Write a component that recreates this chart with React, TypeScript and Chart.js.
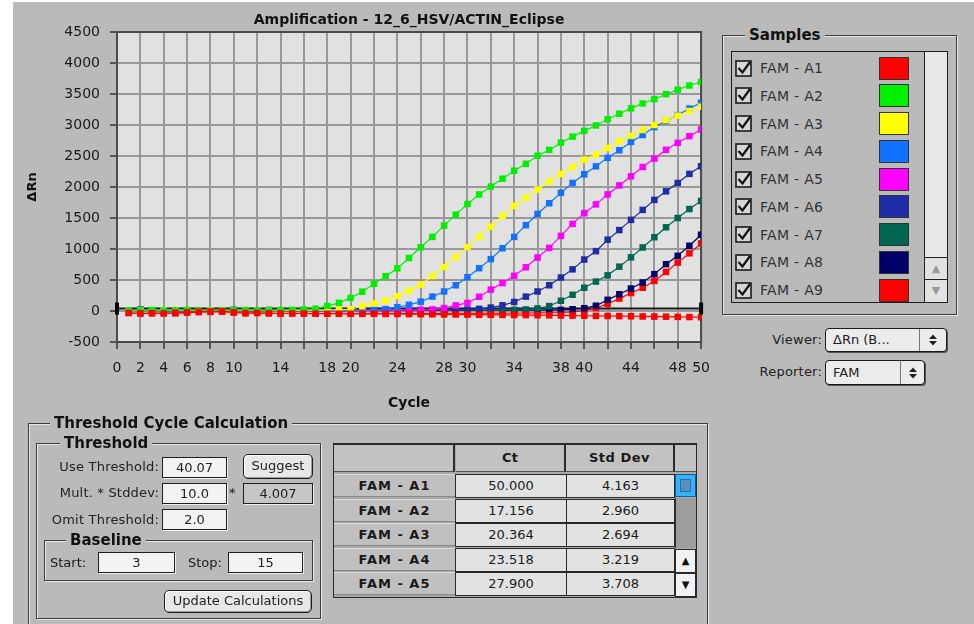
import React, { useEffect, useRef } from 'react';
import { Chart, registerables } from 'chart.js';

Chart.register(...registerables);

const FONT = '"DejaVu Sans", Verdana, sans-serif';
const BG = '#bababa';
const PLOT_BG = '#e1e1e1';

const CHART_TITLE = 'Amplification - 12_6_HSV/ACTIN_Eclipse';
const X_TITLE = 'Cycle';
const Y_TITLE = 'ΔRn';
const THRESHOLD = 40.07;

const CYCLES = [
  1, 2, 3, 4, 5, 6, 7, 8, 9, 10, 11, 12, 13, 14, 15, 16, 17, 18, 19, 20, 21, 22, 23, 24, 25,
  26, 27, 28, 29, 30, 31, 32, 33, 34, 35, 36, 37, 38, 39, 40, 41, 42, 43, 44, 45, 46, 47, 48, 49, 50,
];
const X_GRID = [0, 2, 4, 6, 8, 10, 12, 14, 16, 18, 20, 22, 24, 26, 28, 30, 32, 34, 36, 38, 40, 42, 44, 46, 48, 50];
const X_LABELS = [0, 2, 4, 6, 8, 10, 14, 18, 20, 24, 28, 30, 34, 38, 40, 44, 48, 50];
const Y_MIN = -500;
const Y_MAX = 4500;
const Y_STEP = 500;

const A1 = [-30, -38, -34, -40, -28, -22, -12, -8, -6, -20, -32, -30, -36, -38, -40, -40, -42, -44, -44, -45,
  -46, -46, -47, -48, -50, -51, -53, -55, -56, -58, -60, -62, -63, -65, -66, -68, -70, -72, -74, -77,
  -79, -81, -83, -85, -88, -90, -92, -95, -97, -100];
const A2 = [12, 8, 15, 5, 10, 18, 12, 6, 10, 14, 16, 10, 8, 14, 18, 24, 38, 80, 132, 212,
  312, 438, 562, 688, 855, 1028, 1195, 1378, 1555, 1725, 1880, 2008, 2134, 2262, 2374, 2505, 2598, 2715, 2812, 2905,
  2992, 3093, 3182, 3268, 3348, 3416, 3497, 3570, 3637, 3692];
const A3 = [8, 14, 6, 10, 16, 8, 4, 12, 10, 6, 14, 10, 8, 12, 10, 12, 14, 16, 20, 28,
  78, 120, 165, 240, 325, 425, 565, 710, 870, 1030, 1200, 1360, 1535, 1695, 1825, 1960, 2090, 2210, 2320, 2440,
  2525, 2630, 2735, 2825, 2920, 3000, 3080, 3150, 3225, 3295];
const A4 = [5, 18, 10, -5, -12, 4, 10, 8, 2, 12, 6, 4, 10, 8, 12, 14, 10, 8, 12, 14,
  16, 20, 30, 60, 100, 150, 232, 315, 415, 545, 690, 837, 1012, 1195, 1385, 1565, 1738, 1905, 2065, 2205,
  2333, 2470, 2592, 2727, 2838, 2968, 3068, 3160, 3265, 3360];
const A5 = [6, 4, 10, 8, 2, 12, 10, 6, 4, 8, 10, 12, 6, 8, 10, 6, 8, 10, 12, 10,
  8, 12, 14, 12, 16, 18, 25, 48, 90, 130, 230, 345, 450, 568, 705, 862, 1018, 1212, 1405, 1578,
  1720, 1880, 2025, 2172, 2322, 2458, 2600, 2712, 2820, 2928];
const A6 = [10, 24, 8, 6, 4, 2, 8, 10, 12, 18, 6, 4, 8, 10, 6, 8, 10, 6, 8, 10,
  12, 10, 8, 10, 12, 14, 12, 16, 18, 22, 35, 55, 92, 146, 232, 315, 415, 540, 672, 830,
  965, 1150, 1305, 1470, 1630, 1792, 1930, 2065, 2212, 2335];
const A7 = [8, 6, 4, 10, 6, 8, 4, 6, 10, 8, 6, 4, 8, 6, 10, 6, 8, 4, 6, 8,
  10, 8, 6, 8, 10, 8, 12, 10, 12, 14, 12, 14, 16, 18, 24, 42, 80, 165, 262, 375,
  475, 575, 715, 865, 1025, 1190, 1350, 1500, 1645, 1775];
const A8 = [6, 20, 4, 8, 2, 6, 10, 4, 6, 8, 4, 6, 16, 8, 6, 4, 6, 8, 6, 4,
  6, 8, 6, 8, 6, 8, 10, 8, 10, 12, 10, 12, 10, 12, 14, 12, 14, 18, 28, 45,
  85, 180, 270, 362, 460, 595, 755, 890, 1052, 1230];
const A9 = [-32, -40, -36, -30, -38, -26, -18, -14, -10, -24, -36, -32, -38, -40, -36, -38, -40, -38, -40, -38,
  -40, -38, -40, -38, -40, -38, -40, -38, -36, -38, -36, -38, -36, -34, -32, -30, -28, -24, -15, 5,
  48, 115, 200, 290, 375, 485, 630, 780, 930, 1090];

const SAMPLE_NAMES = ['FAM - A1', 'FAM - A2', 'FAM - A3', 'FAM - A4', 'FAM - A5', 'FAM - A6', 'FAM - A7', 'FAM - A8', 'FAM - A9'];
const SAMPLE_COLORS = ['#ff0000', '#00f000', '#ffff00', '#1272ff', '#ff00ff', '#1e2ca6', '#006652', '#000068', '#ff0000'];
const SERIES = [A1, A2, A3, A4, A5, A6, A7, A8, A9];

const TABLE_ROWS = ['FAM - A1', 'FAM - A2', 'FAM - A3', 'FAM - A4', 'FAM - A5'];
const TABLE_CT = ['50.000', '17.156', '20.364', '23.518', '27.900'];
const TABLE_SD = ['4.163', '2.960', '2.694', '3.219', '3.708'];

const abs = (l: number, t: number, w: number, h: number, extra: any = {}): any => ({
  position: 'absolute', left: l, top: t, width: w, height: h, boxSizing: 'border-box', ...extra,
});

function Group({ l, t, w, h, title, titleLeft, size = 15 }: any) {
  return (
    <>
      <div style={abs(l, t, w, h, { border: '1px solid #3c3c3c', boxShadow: '1px 1px 0 #e6e6e6, inset 1px 1px 0 #e6e6e6' })} />
      <div style={{ position: 'absolute', left: titleLeft, top: t - 10, height: 20, lineHeight: '20px', padding: '0 4px', background: BG, fontWeight: 'bold', fontSize: size, color: '#111', whiteSpace: 'nowrap' }}>{title}</div>
    </>
  );
}

function Field({ l, t, w, h, text, bg = '#f3f3f3' }: any) {
  return (
    <div style={abs(l, t, w, h, { border: '1px solid #1e1e1e', background: bg, boxShadow: '1px 1px 0 #f0f0f0', fontSize: 13, lineHeight: (h - 2) + 'px', textAlign: 'center', color: '#222' })}>{text}</div>
  );
}

function Label({ right, cy, text }: any) {
  return (
    <div style={{ position: 'absolute', right: 974 - right, top: cy - 9, height: 18, lineHeight: '18px', fontSize: 13, whiteSpace: 'nowrap', color: '#222', letterSpacing: 0.2 }}>{text}</div>
  );
}

function Button({ l, t, w, h, text }: any) {
  return (
    <div style={abs(l, t, w, h, { border: '1.5px solid #1e1e1e', borderRadius: 5, background: '#e8e8e8', boxShadow: 'inset -1px -1px 0 #9a9a9a, inset 1px 1px 0 #fafafa', fontSize: 13, lineHeight: (h - 3) + 'px', textAlign: 'center', color: '#222', whiteSpace: 'nowrap' })}>{text}</div>
  );
}

function CheckBox({ l, t }: any) {
  return (
    <svg style={{ position: 'absolute', left: l, top: t }} width={17} height={17} viewBox="0 0 17 17">
      <rect x={1} y={1} width={15} height={15} fill="#d6d6d6" stroke="#1a1a1a" strokeWidth={1.6} />
      <path d="M3.5 8 L7.5 12.5 L15 2" fill="none" stroke="#111" strokeWidth={2.2} />
    </svg>
  );
}

function PopArrows({ cx, cy }: any) {
  return (
    <svg style={{ position: 'absolute', left: cx - 5, top: cy - 7 }} width={10} height={14} viewBox="0 0 10 14">
      <path d="M1 6 L5 1.5 L9 6 Z" fill="#222" />
      <path d="M1 8 L5 12.5 L9 8 Z" fill="#222" />
    </svg>
  );
}

function Popup({ l, t, w, h, sep, text }: any) {
  return (
    <>
      <div style={abs(l, t, w, h, { border: '1px solid #1a1a1a', borderRadius: 4, background: '#ececec', boxShadow: '1px 1px 0 #555', fontSize: 13, lineHeight: (h - 2) + 'px', paddingLeft: 7, color: '#222', whiteSpace: 'nowrap' })}>{text}</div>
      <div style={abs(sep, t + 1, 1, h - 2, { background: '#777' })} />
      <PopArrows cx={(sep + l + w) / 2} cy={t + h / 2} />
    </>
  );
}

export default function App() {
  const ref = useRef<HTMLCanvasElement | null>(null);

  useEffect(() => {
    const canvas = ref.current;
    if (!canvas) return;
    Chart.defaults.font.family = FONT;

    const datasets = SERIES.map((vals, i) => ({
      label: SAMPLE_NAMES[i],
      data: CYCLES.map((c, j) => ({ x: c, y: vals[j] })),
      borderColor: SAMPLE_COLORS[i],
      backgroundColor: SAMPLE_COLORS[i],
      pointBackgroundColor: SAMPLE_COLORS[i],
      pointBorderColor: SAMPLE_COLORS[i],
      pointBorderWidth: 0,
      pointStyle: 'rect',
      pointRadius: 4.6,
      borderWidth: 1.2,
      tension: 0,
      fill: false,
    }));

    const decor = {
      id: 'plotDecor',
      beforeDraw(chart: any) {
        const { ctx, chartArea: a } = chart;
        ctx.save();
        ctx.fillStyle = PLOT_BG;
        ctx.fillRect(a.left, a.top, a.right - a.left, a.bottom - a.top);
        ctx.restore();
      },
      beforeDatasetsDraw(chart: any) {
        const { ctx, chartArea: a, scales } = chart;
        ctx.save();
        ctx.strokeStyle = '#4a4a4a';
        ctx.lineWidth = 2;
        ctx.strokeRect(a.left, a.top, a.right - a.left, a.bottom - a.top);
        const y = scales.y.getPixelForValue(THRESHOLD);
        ctx.strokeStyle = '#1a1a1a';
        ctx.lineWidth = 2;
        ctx.beginPath();
        ctx.moveTo(a.left, y);
        ctx.lineTo(a.right, y);
        ctx.stroke();
        ctx.fillStyle = '#000';
        ctx.fillRect(a.left - 2, y - 6, 4, 12);
        ctx.fillRect(a.right - 2, y - 6, 4, 12);
        ctx.restore();
      },
      afterDraw(chart: any) {
        const { ctx, chartArea: a } = chart;
        ctx.save();
        ctx.font = 'bold 14px ' + FONT;
        ctx.fillStyle = '#111';
        ctx.textAlign = 'center';
        ctx.textBaseline = 'middle';
        ctx.fillText(CHART_TITLE, (a.left + a.right) / 2, 20);
        ctx.restore();
      },
    };

    const chart = new Chart(canvas, {
      type: 'line',
      data: { datasets } as any,
      options: {
        animation: false,
        responsive: false,
        events: [],
        layout: { padding: { top: 32, right: 12, bottom: 0, left: 0 } },
        plugins: { legend: { display: false }, tooltip: { enabled: false }, title: { display: false } },
        scales: {
          x: {
            type: 'linear',
            min: 0,
            max: 50,
            afterBuildTicks: (s: any) => { s.ticks = X_GRID.map((v) => ({ value: v })); },
            afterFit: (s: any) => { s.height = 73; },
            ticks: {
              autoSkip: false,
              maxRotation: 0,
              padding: 11,
              color: '#1a1a1a',
              font: { size: 14 },
              callback: (v: any) => (X_LABELS.includes(Number(v)) ? String(v) : ''),
            },
            grid: { color: '#999999', lineWidth: 2, tickLength: 7, tickColor: '#333', tickWidth: 1.5 },
            border: { color: '#333', width: 2 },
            title: { display: true, text: X_TITLE, color: '#111', font: { size: 14, weight: 'bold' }, padding: { top: 2, bottom: 3 } },
          },
          y: {
            type: 'linear',
            min: Y_MIN,
            max: Y_MAX,
            afterFit: (s: any) => { s.width = 117; },
            ticks: { stepSize: Y_STEP, padding: 10, color: '#1a1a1a', font: { size: 14 }, callback: (v: any) => String(v) },
            grid: { color: '#999999', lineWidth: 2, tickLength: 7, tickColor: '#333', tickWidth: 1.5 },
            border: { color: '#333', width: 2 },
            title: { display: true, text: Y_TITLE, color: '#111', font: { size: 13, weight: 'bold' }, padding: { top: 25, bottom: 0 } },
          },
        },
      } as any,
      plugins: [decor],
    });
    return () => chart.destroy();
  }, []);

  const rowTop = (i: number) => 474 + 24.6 * i;

  return (
    <div style={{ position: 'absolute', left: 0, top: 0, width: 974, height: 624, background: '#ffffff', overflow: 'hidden', fontFamily: FONT, color: '#1a1a1a' }}>
      <div style={abs(13, 2, 961, 622, { background: BG })} />
      <canvas ref={ref} width={721} height={415} style={{ position: 'absolute', left: 0, top: 0, width: 721, height: 415 }} />

      {/* Samples panel */}
      <Group l={722} t={35} w={235} h={280} title="Samples" titleLeft={745} />
      <div style={abs(731, 51, 217, 252, { border: '1px solid #1e1e1e', background: BG })} />
      <div style={abs(924, 51, 24, 252, { border: '1px solid #1e1e1e', background: '#e8e8e8' })} />
      <div style={abs(924, 257, 24, 23, { border: '1px solid #1e1e1e', background: '#e2e2e2', color: '#9a9a9a', fontSize: 11, textAlign: 'center', lineHeight: '21px' })}>▲</div>
      <div style={abs(924, 279, 24, 24, { border: '1px solid #1e1e1e', background: '#e2e2e2', color: '#9a9a9a', fontSize: 11, textAlign: 'center', lineHeight: '22px' })}>▼</div>
      {SAMPLE_NAMES.map((name, i) => {
        const cy = 68 + 27.75 * i;
        return (
          <React.Fragment key={name}>
            <CheckBox l={735} t={cy - 8.5} />
            <div style={{ position: 'absolute', left: 760, top: cy - 10, height: 20, lineHeight: '20px', fontSize: 14, color: '#333', whiteSpace: 'nowrap', letterSpacing: 0.3 }}>{name}</div>
            <div style={abs(879, cy - 11.5, 30, 23, { background: SAMPLE_COLORS[i], border: '1px solid #333' })} />
          </React.Fragment>
        );
      })}

      <Label right={822} cy={340} text="Viewer:" />
      <Popup l={825} t={328} w={122} h={24} sep={919} text="ΔRn (B..." />
      <Label right={822} cy={372} text="Reporter:" />
      <Popup l={825} t={360} w={100} h={25} sep={900} text="FAM" />

      {/* Threshold Cycle Calculation */}
      <Group l={28} t={423} w={680} h={215} title="Threshold Cycle Calculation" titleLeft={50} />
      <Group l={36} t={443} w={285} h={176} title="Threshold" titleLeft={60} />

      <Label right={159} cy={467} text="Use Threshold:" />
      <Field l={162} t={457} w={65} h={21} text="40.07" />
      <Button l={243} t={454} w={70} h={25} text="Suggest" />

      <Label right={159} cy={493} text="Mult. * Stddev:" />
      <Field l={162} t={483} w={65} h={21} text="10.0" />
      <div style={{ position: 'absolute', left: 229, top: 484, fontSize: 13, lineHeight: '18px' }}>*</div>
      <Field l={243} t={483} w={70} h={21} text="4.007" bg="#c6c6c6" />

      <Label right={159} cy={520} text="Omit Threshold:" />
      <Field l={162} t={509} w={65} h={21} text="2.0" />

      <Group l={44} t={540} w={269} h={41} title="Baseline" titleLeft={66} />
      <div style={{ position: 'absolute', left: 50, top: 554, fontSize: 13, lineHeight: '18px' }}>Start:</div>
      <Field l={98} t={552} w={77} h={21} text="3" />
      <div style={{ position: 'absolute', left: 188, top: 554, fontSize: 13, lineHeight: '18px' }}>Stop:</div>
      <Field l={228} t={552} w={75} h={21} text="15" />

      <Button l={164} t={590} w={148} h={23} text="Update Calculations" />

      {/* Results table */}
      <div style={abs(333, 443, 364, 155, { border: '1px solid #2a2a2a', borderTop: '2px solid #2a2a2a', background: '#a9a9a9' })} />
      <div style={abs(334, 445, 121, 27, { background: '#c2c2c2', borderRight: '2px solid #2a2a2a', borderBottom: '1px solid #555' })} />
      <div style={abs(456, 445, 110, 27, { background: '#c2c2c2', borderRight: '2px solid #2a2a2a', borderBottom: '1px solid #555', fontWeight: 'bold', fontSize: 13, textAlign: 'center', lineHeight: '26px' })}>Ct</div>
      <div style={abs(566, 445, 109, 27, { background: '#c2c2c2', borderRight: '2px solid #2a2a2a', borderBottom: '1px solid #555', fontWeight: 'bold', fontSize: 13, textAlign: 'center', lineHeight: '26px', letterSpacing: 0.5 })}>Std Dev</div>
      <div style={abs(675, 445, 21, 27, { background: '#c2c2c2', borderBottom: '1px solid #555' })} />
      {TABLE_ROWS.map((r, i) => {
        const t = rowTop(i);
        return (
          <React.Fragment key={r}>
            <div style={abs(334, t, 121, 23, { background: '#c0c0c0', borderTop: '1px solid #dcdcdc', borderBottom: '1px solid #888', fontWeight: 'bold', fontSize: 13, textAlign: 'center', lineHeight: '21px', letterSpacing: 1 })}>{r}</div>
            <div style={abs(455, t, 112, 24, { background: '#e2e2e2', border: '1.5px solid #2a2a2a', fontSize: 13, textAlign: 'center', lineHeight: '21px' })}>{TABLE_CT[i]}</div>
            <div style={abs(566, t, 109, 24, { background: '#e2e2e2', border: '1.5px solid #2a2a2a', fontSize: 13, textAlign: 'center', lineHeight: '21px' })}>{TABLE_SD[i]}</div>
          </React.Fragment>
        );
      })}
      <div style={abs(675, 474, 21, 23, { background: '#2fb4ff', border: '1px solid #1a5a90' })}>
        <div style={abs(4, 4, 11, 13, { background: '#5b8fc0', border: '1px solid #3a6a98' })} />
      </div>
      <div style={abs(675, 498, 21, 50, { background: '#9d9d9d', borderLeft: '1px solid #2a2a2a' })} />
      <div style={abs(675, 549, 21, 24, { background: '#f2f2f2', border: '1px solid #2a2a2a', fontSize: 10, textAlign: 'center', lineHeight: '22px', color: '#111' })}>▲</div>
      <div style={abs(675, 573, 21, 24, { background: '#f2f2f2', border: '1px solid #2a2a2a', fontSize: 10, textAlign: 'center', lineHeight: '22px', color: '#111' })}>▼</div>
    </div>
  );
}
